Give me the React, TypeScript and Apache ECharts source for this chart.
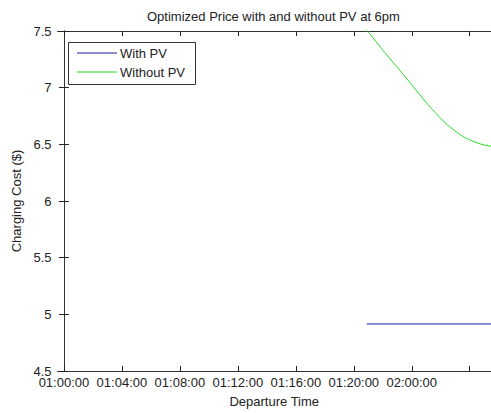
import React, { useEffect, useRef } from "react";
import * as echarts from "echarts";

// Tick positions (index units) and labels
const xTickPositions = [0, 1, 2, 3, 4, 5, 6, 7];
const xTickLabels = ["01:00:00", "01:04:00", "01:08:00", "01:12:00", "01:16:00", "01:20:00", "02:00:00", ""];
const yTickValues = [4.5, 5, 5.5, 6, 6.5, 7, 7.5];

// Series data (x in tick-index units)
const withoutPvX = [5.224, 5.481, 5.737, 5.993, 6.3, 6.59, 6.881, 7.103, 7.273, 7.376];
const withoutPvY = [7.51, 7.343, 7.187, 7.03, 6.839, 6.683, 6.57, 6.517, 6.491, 6.483];
const withPvX = [5.224, 7.4];
const withPvY = [4.915, 4.915];

const seriesNames = ["With PV", "Without PV"];
const seriesColors = ["#16169a", "#22dd22"];

const X_MIN = -0.111;
const X_MAX = 7.367;

const FONT = "'Liberation Sans', Arial, sans-serif";

export default function App() {
  const ref = useRef<HTMLDivElement>(null);
  useEffect(() => {
    document.body.style.margin = "0";
    if (!ref.current) return;
    const chart = echarts.init(ref.current, undefined, { renderer: "svg" });
    const axisLineStyle = { color: "#333", width: 1 };
    const fmtX = (v: number) => {
      const i = xTickPositions.indexOf(Math.round(v));
      return i >= 0 ? xTickLabels[i] : "";
    };
    const legendRows = [53, 72];
    const legendGraphics: any[] = [
      {
        type: "rect",
        shape: { x: 68.5, y: 42.5, width: 127, height: 42 },
        style: { fill: "#fff", stroke: "#333", lineWidth: 1 },
        z: 100,
      },
    ];
    seriesNames.forEach((name, i) => {
      legendGraphics.push({
        type: "line",
        shape: { x1: 77, y1: legendRows[i], x2: 117, y2: legendRows[i] },
        style: { stroke: seriesColors[i], lineWidth: 1 },
        z: 101,
      });
      legendGraphics.push({
        type: "text",
        x: 120,
        y: legendRows[i],
        style: {
          text: name,
          fill: "#222",
          font: `13px ${FONT}`,
          textVerticalAlign: "middle",
          verticalAlign: "middle",
        },
        z: 101,
      });
    });
    chart.setOption({
      animation: false,
      backgroundColor: "#fff",
      textStyle: { fontFamily: FONT },
      title: {
        text: "Optimized Price with and without PV at 6pm",
        left: 147,
        top: 10,
        padding: 0,
        textStyle: { fontSize: 13, fontWeight: "normal", color: "#222", fontFamily: FONT },
      },
      graphic: legendGraphics,
      grid: { left: 57.5, top: 31, width: 438, height: 345, containLabel: false },
      xAxis: [
        {
          type: "value",
          position: "bottom",
          min: X_MIN,
          max: X_MAX,
          name: "Departure Time",
          nameLocation: "middle",
          nameGap: 24,
          nameTextStyle: { fontSize: 13, color: "#222", fontFamily: FONT },
          axisLine: { show: true, lineStyle: axisLineStyle },
          axisTick: { show: true, inside: true, length: 5, customValues: xTickPositions, lineStyle: { color: "#222" } },
          axisLabel: { customValues: xTickPositions, formatter: fmtX, fontSize: 13, color: "#222", margin: 5, fontFamily: FONT },
          splitLine: { show: false },
        },
        {
          type: "value",
          position: "top",
          min: X_MIN,
          max: X_MAX,
          axisLine: { show: true, lineStyle: axisLineStyle },
          axisTick: { show: true, inside: true, length: 5, customValues: xTickPositions, lineStyle: { color: "#222" } },
          axisLabel: { show: false },
          splitLine: { show: false },
        },
      ],
      yAxis: [
        {
          type: "value",
          position: "left",
          min: 4.5,
          max: 7.5,
          interval: 0.5,
          name: "Charging Cost ($)",
          nameLocation: "middle",
          nameGap: 28,
          nameTextStyle: { fontSize: 13, color: "#222", fontFamily: FONT },
          axisLine: { show: true, lineStyle: axisLineStyle },
          axisTick: { show: true, inside: true, length: 5, customValues: yTickValues, lineStyle: { color: "#222" } },
          axisLabel: { customValues: yTickValues, fontSize: 13, color: "#222", margin: 6, fontFamily: FONT },
          splitLine: { show: false },
        },
        {
          type: "value",
          position: "right",
          min: 4.5,
          max: 7.5,
          interval: 0.5,
          axisLine: { show: true, lineStyle: axisLineStyle },
          axisTick: { show: true, inside: true, length: 5, customValues: yTickValues, lineStyle: { color: "#222" } },
          axisLabel: { show: false },
          splitLine: { show: false },
        },
      ],
      series: [
        {
          name: seriesNames[0],
          type: "line",
          xAxisIndex: 0,
          yAxisIndex: 0,
          symbol: "none",
          clip: true,
          lineStyle: { color: seriesColors[0], width: 1 },
          itemStyle: { color: seriesColors[0] },
          data: withPvX.map((x, i) => [x, withPvY[i]]),
        },
        {
          name: seriesNames[1],
          type: "line",
          xAxisIndex: 0,
          yAxisIndex: 0,
          symbol: "none",
          clip: true,
          smooth: 0.2,
          lineStyle: { color: seriesColors[1], width: 1 },
          itemStyle: { color: seriesColors[1] },
          data: withoutPvX.map((x, i) => [x, withoutPvY[i]]),
        },
      ],
    });
    return () => chart.dispose();
  }, []);
  return <div ref={ref} style={{ width: 491, height: 413 }} />;
}
